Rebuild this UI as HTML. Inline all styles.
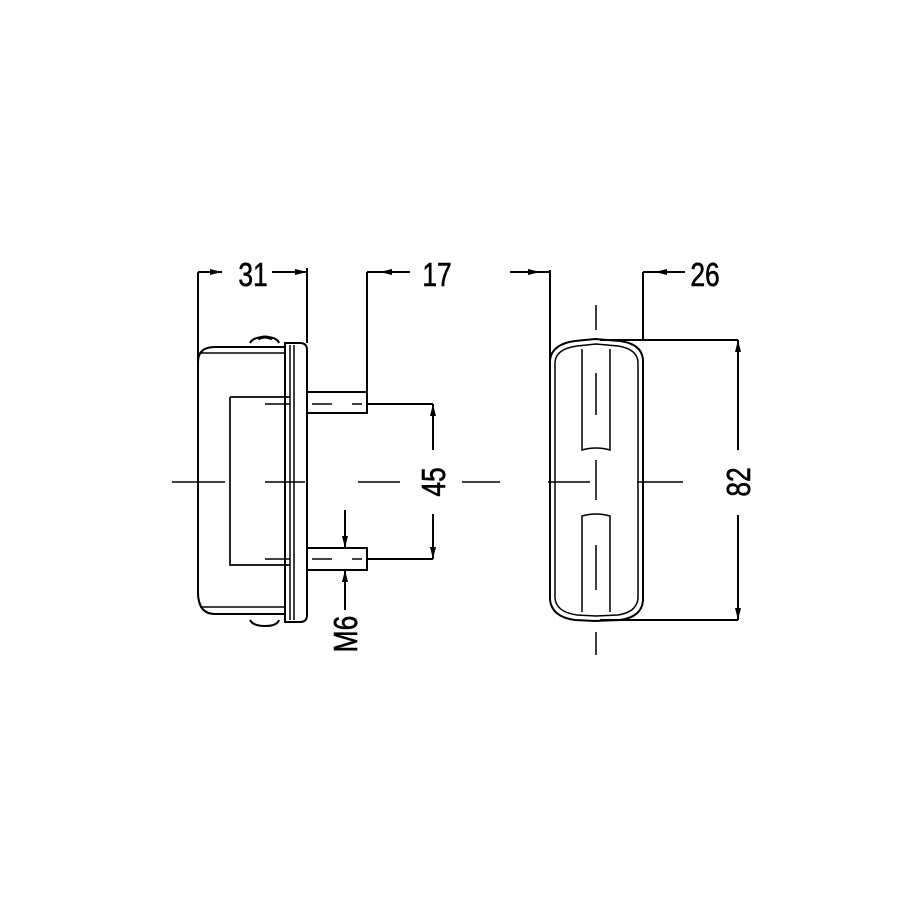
<!DOCTYPE html>
<html><head><style>body{margin:0;background:#fff}svg{display:block}</style></head><body>
<svg width="915" height="915" viewBox="0 0 915 915" xmlns="http://www.w3.org/2000/svg">
<defs>
<marker id="a" viewBox="0 0 12 7" refX="12" refY="3.5" markerWidth="12" markerHeight="7" markerUnits="userSpaceOnUse" orient="auto"><path d="M0,0.5 L12,3.5 L0,6.5z" fill="#000"/></marker>
</defs>
<g fill="none" stroke="#000" stroke-width="2">
<path d="M198,272 V592 Q198,614 215,614 H285 M198,272 V362 Q198,347 215,347 H285"/>
<path d="M200,353 H285 M200,607 H285" stroke-width="1.5"/>
<path d="M250,343 Q253,337 265,337 Q277,337 279,343"/>
<path d="M258,339 Q265,335 272,339" stroke-width="3"/>
<path d="M250,620 Q253,626 265,626 Q277,626 279,620" />
<path d="M285,343 H300 Q307,343 307,350 V615 Q307,622 300,622 H285 Z"/>
<path d="M290,345 V620 M294,345 V620" stroke-width="1.5"/>
<path d="M307,268 V343"/>
<path d="M230,397 H290 M230,397 V565 H290" stroke-width="1.7"/>
<path d="M265,404 H290 M265,559 H290 M265,482 H305" stroke-width="1.5"/>
<path d="M307,392 H367 V413 H307 M307,548 H367 V570 H307"/>
<path d="M312,404 H332 M352,404 H362 M312,559 H332 M352,559 H362" stroke-width="1.5"/>
<path d="M367,272 V392"/>
<path d="M367,404 H433 M367,559 H433"/>
<path d="M433,450 V404" marker-end="url(#a)"/>
<path d="M433,514 V559" marker-end="url(#a)"/>
<path d="M345,510 V548" marker-end="url(#a)"/>
<path d="M345,610 V570" marker-end="url(#a)"/>
<path d="M172,482 H225 M358,482 H400 M462,482 H500" stroke-width="1.5"/>
<path d="M198,272 H222" marker-end="url(#a)"/>
<path d="M272,272 H307" marker-end="url(#a)"/>
<path d="M410,272 H367" />
<path d="M410,272 H380" marker-end="url(#a)"/>
<path d="M550,270 V360 Q552,344 575,341 L595,339 L620,341 Q642,344 643,360 V600 Q642,617 620,620 L595,621 L575,620 Q552,617 550,600 V360"/>
<path d="M555,362 Q556,349 577,346 L596,344 L618,346 Q637,349 638,362 V598 Q637,612 618,615 L596,616 L577,615 Q556,612 555,598 Z" stroke-width="1.5"/>
<path d="M582,349 V450 Q596,446 610,450 V349 M582,612 V516 Q596,512 610,516 V612" stroke-width="1.5"/>
<path d="M596,305 V330 M596,373 V415 M596,460 V500 M596,545 V590 M596,632 V655" stroke-width="1.5"/>
<path d="M548,482 H590 M637,482 H683" stroke-width="1.5"/>
<path d="M510,272 H550"/>
<path d="M510,272 H540" marker-end="url(#a)"/>
<path d="M643,272 V340"/>
<path d="M685,272 H655" marker-end="url(#a)"/>
<path d="M655,272 H643"/>
<path d="M600,340 H738 M600,620 H738"/>
<path d="M738,450 V340" marker-end="url(#a)"/>
<path d="M738,515 V620" marker-end="url(#a)"/>
</g>
<g font-family="Liberation Sans, sans-serif" font-size="33" fill="#000" stroke="#000" stroke-width="0.6">
<text transform="translate(253,286) scale(0.8,1)" text-anchor="middle">31</text>
<text transform="translate(437,286) scale(0.8,1)" text-anchor="middle">17</text>
<text transform="translate(705,286) scale(0.8,1)" text-anchor="middle">26</text>
<text transform="translate(445,482) rotate(-90) scale(0.8,1)" text-anchor="middle">45</text>
<text transform="translate(750,482) rotate(-90) scale(0.8,1)" text-anchor="middle">82</text>
<text transform="translate(357,634) rotate(-90) scale(0.8,1)" text-anchor="middle">M6</text>
</g>
</svg>
</body></html>
